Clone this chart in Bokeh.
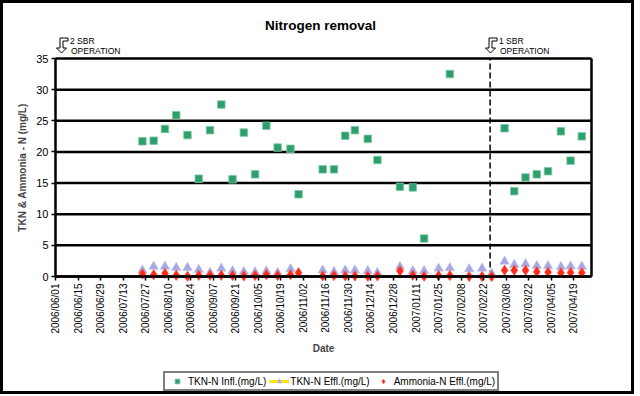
import numpy as np
import pandas as pd
from bokeh.plotting import figure
from bokeh.models import (ColumnDataSource, FixedTicker, DatetimeTickFormatter, Legend, LegendItem,
                          Range1d)
from bokeh.core.properties import value
from bokeh.embed import file_html
from bokeh.resources import INLINE

# ---------------- data ----------------
dates = ["2006-07-25", "2006-08-01", "2006-08-08", "2006-08-15", "2006-08-22", "2006-08-29",
         "2006-09-05", "2006-09-12", "2006-09-19", "2006-09-26", "2006-10-03", "2006-10-10",
         "2006-10-17", "2006-10-25", "2006-10-30", "2006-11-14", "2006-11-21", "2006-11-28",
         "2006-12-04", "2006-12-12", "2006-12-18", "2007-01-01", "2007-01-09", "2007-01-16",
         "2007-01-25", "2007-02-01", "2007-02-13", "2007-02-21", "2007-02-27", "2007-03-07",
         "2007-03-13", "2007-03-20", "2007-03-27", "2007-04-03", "2007-04-11", "2007-04-17",
         "2007-04-24"]
tkn_infl = [21.7, 21.8, 23.7, 25.9, 22.7, 15.7, 23.5, 27.6, 15.6, 23.1, 16.4, 24.2,
            20.7, 20.5, 13.2, 17.2, 17.2, 22.6, 23.5, 22.1, 18.7, 14.4, 14.3, 6.1,
            None, 32.5, None, None, None, 23.8, 13.7, 15.9, 16.4, 16.9, 23.3, 18.6, 22.5]
tkn_effl = [1.0, 1.6, 1.6, 1.4, 1.4, 1.1, 0.6, 1.3, 0.9, 0.75, 0.7, 0.85,
            0.6, 1.2, None, 1.0, 0.75, 1.0, 1.0, 0.9, 0.6, 1.55, 0.9, 0.9,
            1.3, 1.35, 1.2, 1.3, 0.5, 2.4, 1.9, 2.0, 1.7, 1.7, 1.55, 1.65, 1.6]
ammonia_effl = [0.4, 0.3, 0.5, 0.2, 0.05, 0.2, 0.2, 0.2, 0.15, 0.1, 0.15, 0.3,
                0.15, 0.3, 0.6, 0.1, 0.15, 0.1, 0.1, 0.05, 0.1, 0.9, 0.2, 0.05,
                0.15, 0.15, 0.0, 0.0, 0.0, 1.0, 1.0, 1.0, 0.75, 0.7, 0.6, 0.65, 0.6]
y_ticks = [0, 5, 10, 15, 20, 25, 30, 35]
y_min, y_max = 0, 35
x_start, x_end = "2006-06-01", "2007-04-30"
tick_start, tick_end, tick_step_days = "2006-06-01", "2007-04-19", 14
sbr1_date = "2007-02-26"
title_text = "Nitrogen removal"
note_left = ("2 SBR", "OPERATION")
note_right = ("1 SBR", "OPERATION")

FONT = "Liberation Sans"

def to_ms(d):
    return pd.Timestamp(d).value / 1e6

def clean(v):
    return [np.nan if a is None else a for a in v]

src = ColumnDataSource(dict(
    date=pd.to_datetime(dates),
    infl=clean(tkn_infl),
    effl=clean(tkn_effl),
    nh4=clean(ammonia_effl),
))

# ---------------- page geometry (page pixels) ----------------
ORG = 3.0                        # canvas origin on the page (inside the 3px border)
W, H = 634, 394
FL, FR, FT, FB = 55.0, 591.0, 58.0, 276.0   # the 0..35 plot box on the page
x0_ms, x1_ms = to_ms(x_start), to_ms(x_end)

def px_x(px):
    return x0_ms + (px - FL) / (FR - FL) * (x1_ms - x0_ms)

def px_y(py):
    return y_min + (y_max - y_min) * (FB - py) / (FB - FT)

# the frame covers the whole canvas; axes are pinned to the plot box
p = figure(width=W, height=H, x_axis_type="datetime", output_backend="svg",
           toolbar_location=None, title=None,
           x_range=Range1d(px_x(ORG), px_x(ORG + W)),
           y_range=Range1d(px_y(ORG + H), px_y(ORG)),
           min_border_left=0, min_border_right=0, min_border_top=0, min_border_bottom=0)
p.styles = {"border": "3px solid black"}
p.background_fill_color = "white"
p.border_fill_color = "white"
p.outline_line_color = None
p.xgrid.visible = False
p.ygrid.visible = False

# y axis
p.yaxis.fixed_location = x0_ms
p.yaxis.bounds = (y_min, y_max)
p.yaxis.ticker = FixedTicker(ticks=y_ticks)
p.yaxis.axis_label = "TKN & Ammonia - N (mg/L)"
p.yaxis.axis_label_text_font = FONT
p.yaxis.axis_label_text_font_size = "10px"
p.yaxis.axis_label_text_font_style = "bold"
p.yaxis.axis_label_standoff = 5
p.yaxis.major_label_text_font = FONT
p.yaxis.major_label_text_font_size = "11px"
p.yaxis.major_label_text_color = "black"
p.yaxis.major_label_standoff = 3
p.yaxis.axis_line_width = 2.5
p.yaxis.axis_line_color = "black"
p.yaxis.major_tick_out = 4
p.yaxis.major_tick_in = 0
p.yaxis.major_tick_line_width = 1.5
p.yaxis.minor_tick_line_color = None

# x axis
tick_ms = [to_ms(d) for d in pd.date_range(tick_start, tick_end, freq=f"{tick_step_days}D")]
p.xaxis.fixed_location = y_min
p.xaxis.bounds = (x0_ms, x1_ms)
p.xaxis.ticker = FixedTicker(ticks=tick_ms)
fmt = "%Y/%m/%d"
p.xaxis.formatter = DatetimeTickFormatter(microseconds=fmt, milliseconds=fmt, seconds=fmt,
                                          minsec=fmt, minutes=fmt, hourmin=fmt, hours=fmt,
                                          days=fmt, months=fmt, years=fmt)
p.xaxis.major_label_orientation = np.pi / 2
p.xaxis.major_label_text_font = FONT
p.xaxis.major_label_text_font_size = "10px"
p.xaxis.major_label_text_color = "black"
p.xaxis.major_label_standoff = 3
p.xaxis.axis_label = "Date"
p.xaxis.axis_label_text_font = FONT
p.xaxis.axis_label_text_font_size = "10px"
p.xaxis.axis_label_text_font_style = "bold"
p.xaxis.axis_label_standoff = 6
p.xaxis.axis_line_width = 2.5
p.xaxis.axis_line_color = "black"
p.xaxis.major_tick_out = 4
p.xaxis.major_tick_in = 0
p.xaxis.major_tick_line_width = 1.5
p.xaxis.minor_tick_line_color = None

# horizontal gridlines of the plot box (incl. its top edge) and its right edge
p.segment(x0=[x0_ms] * len(y_ticks), y0=y_ticks, x1=[x1_ms] * len(y_ticks), y1=y_ticks,
          line_color="black", line_width=2.5)
p.segment(x0=[x1_ms], y0=[y_min], x1=[x1_ms], y1=[y_max], line_color="black", line_width=2.5)

# phase change marker
p.segment(x0=[to_ms(sbr1_date)], y0=[y_min], x1=[to_ms(sbr1_date)], y1=[y_max],
          line_color="black", line_width=1.5, line_dash="6 3")

# data
r_sq = p.scatter("date", "infl", source=src, marker="square", size=7.5,
                 fill_color="#2E9E6C", line_color="#7CC9A5", line_width=0.8)
r_tri = p.scatter("date", "effl", source=src, marker="triangle", size=9.5,
                  fill_color="#A8A8E2", line_color="#B8B8EA", line_width=0.5)
r_dia = p.scatter("date", "nh4", source=src, marker="diamond", size=10.5,
                  fill_color="#FF2A1A", line_color="#FF5040", line_width=0.5)
# legend-only proxy for the yellow series line (no visible points)
r_line = p.line(x=[x0_ms, x0_ms], y=[np.nan, np.nan], line_color="#FFE800", line_width=3)

# legend (inside the frame, near the bottom of the canvas)
leg = Legend(items=[LegendItem(label="TKN-N Infl.(mg/L)", renderers=[r_sq]),
                    LegendItem(label="TKN-N Effl.(mg/L)", renderers=[r_line, r_tri]),
                    LegendItem(label="Ammonia-N Effl.(mg/L)", renderers=[r_dia])],
             orientation="horizontal", location=(163 - ORG, (ORG + H) - 391),
             glyph_width=20, glyph_height=12, label_standoff=1, spacing=3, padding=2,
             label_text_font=FONT, label_text_font_size="10px", label_text_color="black",
             border_line_color="black", border_line_width=2, background_fill_alpha=1.0,
             label_height=12, margin=0)
p.add_layout(leg)

# title and phase notes
p.text(x=[px_x(320)], y=[px_y(25)], text=[title_text], text_align="center",
       text_baseline="middle", text_font=value(FONT), text_font_size="13.5px",
       text_font_style="bold", text_color="black")

arrow_shape = [(3, 0), (11, 0), (11, 3), (6, 3), (6, 10), (9.5, 10), (4.5, 15), (-0.5, 10), (3, 10)]
for ax_px, (t1, t2) in [(56.5, note_left), (485.5, note_right)]:
    p.patch(x=[px_x(ax_px + dx) for dx, dy in arrow_shape],
            y=[px_y(37.5 + dy) for dx, dy in arrow_shape],
            fill_color="white", line_color="black", line_width=1)
    p.text(x=[px_x(ax_px + 13), px_x(ax_px + 14)], y=[px_y(40.5), px_y(50.5)], text=[t1, t2],
           text_align="left", text_baseline="middle", text_font=value(FONT),
           text_font_size="8.5px", text_color="black")

open("out.html", "w").write(file_html(p, INLINE))
